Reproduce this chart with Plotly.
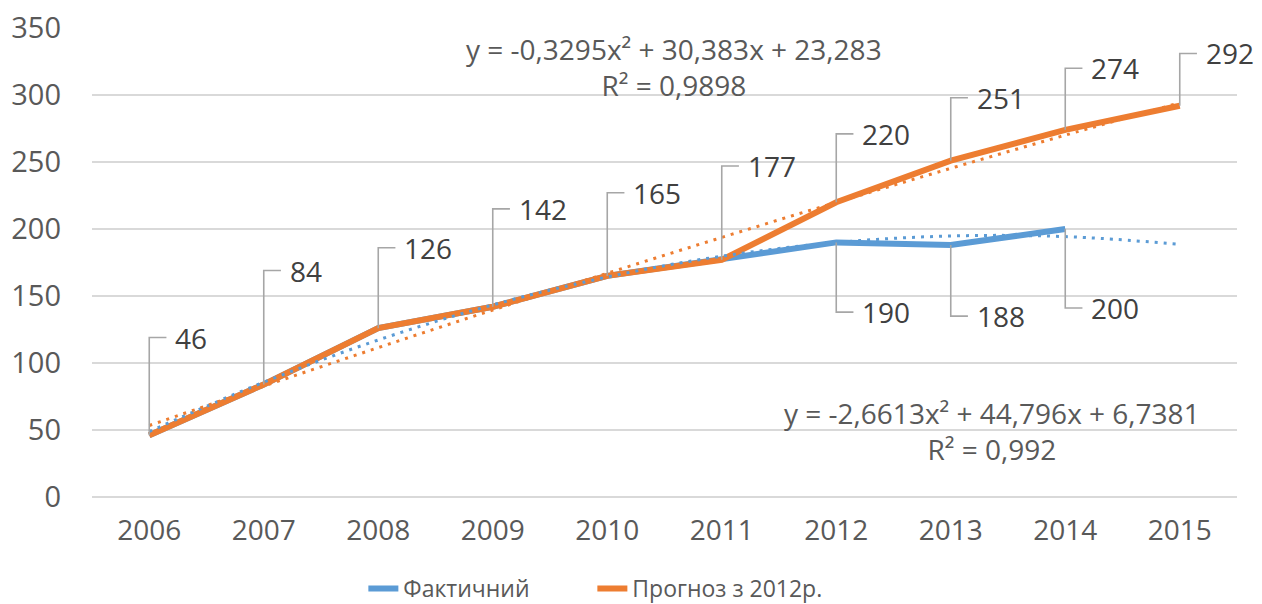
import plotly.graph_objects as go

years = ["2006", "2007", "2008", "2009", "2010", "2011", "2012", "2013", "2014", "2015"]
actual = [46, 84, 126, 142, 165, 177, 190, 188, 200]
forecast = [46, 84, 126, 142, 165, 177, 220, 251, 274, 292]
# polynomial trend lines, evaluated from the equations shown on the chart
actual_trend = [48.87, 85.68, 117.18, 143.34, 164.19, 179.71, 189.91, 194.79, 194.33, 188.57]
forecast_trend = [53.34, 82.73, 111.47, 139.54, 166.96, 193.72, 219.82, 245.26, 270.04, 294.16]
actual_eq = "y = -2,6613x² + 44,796x + 6,7381<br>R² = 0,992"
forecast_eq = "y = -0,3295x² + 30,383x + 23,283<br>R² = 0,9898"

# label leader offsets (data units)
forecast_label_dy = [73, 85, 60, 73, 62, 70, 51, 47, 46, 39]
actual_label_idx = [6, 7, 8]
actual_label_dy = [-52, -53, -59]

BLUE = "#5B9BD5"
ORANGE = "#ED7D31"
TXT = "#595959"
GRID = "#D9D9D9"
LEAD = "#A6A6A6"
FONT = "Open Sans"

xi = list(range(len(years)))
fig = go.Figure()
fig.add_trace(go.Scatter(x=xi[:len(actual)], y=actual, mode="lines", name="Фактичний",
                         line=dict(color=BLUE, width=6), hoverinfo="skip", legend="legend"))
fig.add_trace(go.Scatter(x=xi, y=forecast, mode="lines", name="Прогноз з 2012р.",
                         line=dict(color=ORANGE, width=6), hoverinfo="skip", legend="legend2"))
fig.add_trace(go.Scatter(x=xi, y=actual_trend, mode="lines", showlegend=False,
                         line=dict(color=BLUE, width=3, dash="3px,6px", shape="spline"), hoverinfo="skip"))
fig.add_trace(go.Scatter(x=xi, y=forecast_trend, mode="lines", showlegend=False,
                         line=dict(color=ORANGE, width=3, dash="3px,6px", shape="spline"), hoverinfo="skip"))

HL = 0.15
annotations = []
def add_label(i, v, dy):
    fig.add_trace(go.Scatter(x=[i, i, i + HL], y=[v, v + dy, v + dy], mode="lines",
                             showlegend=False, hoverinfo="skip",
                             line=dict(color=LEAD, width=1.6)))
    annotations.append(dict(x=i + HL, y=v + dy, xref="x", yref="y", text=str(v),
                            showarrow=False, xanchor="left", yanchor="middle", xshift=7,
                            font=dict(family=FONT, size=28, color="#404040")))

for i, (v, dy) in enumerate(zip(forecast, forecast_label_dy)):
    add_label(i, v, dy)
for i, dy in zip(actual_label_idx, actual_label_dy):
    add_label(i, actual[i], dy)

annotations.append(dict(x=4.58, y=321, xref="x", yref="y", text=forecast_eq, showarrow=False,
                        xanchor="center", yanchor="middle", align="center",
                        font=dict(family=FONT, size=28, color=TXT)))
annotations.append(dict(x=7.36, y=49, xref="x", yref="y", text=actual_eq, showarrow=False,
                        xanchor="center", yanchor="middle", align="center",
                        font=dict(family=FONT, size=28, color=TXT)))

legend_style = dict(orientation="h", xanchor="left", y=-0.195, yanchor="middle",
                    font=dict(family=FONT, size=23, color=TXT), bgcolor="rgba(0,0,0,0)")

# the page body adds an 8px offset, so the figure is 8px smaller on each axis
fig.update_layout(
    width=1254, height=596,
    margin=dict(l=84, r=25, t=20, b=107, autoexpand=False),
    paper_bgcolor="white", plot_bgcolor="white",
    font=dict(family=FONT, size=28, color=TXT),
    annotations=annotations,
    legend=dict(x=0.237, **legend_style),
    legend2=dict(x=0.437, **legend_style),
    xaxis=dict(range=[-0.5, len(years) - 0.5], tickvals=xi, ticktext=years,
               showgrid=False, zeroline=False, showline=False, ticks="", automargin=False,
               ticklabelstandoff=14, tickfont=dict(family=FONT, size=28, color=TXT)),
    yaxis=dict(range=[0, 350], dtick=50, showgrid=True, gridcolor=GRID, gridwidth=1.6,
               zeroline=True, zerolinecolor=GRID, zerolinewidth=1.6, showline=False,
               ticks="", automargin=False, ticklabelstandoff=30, ticklabeloverflow="allow",
               tickfont=dict(family=FONT, size=29, color=TXT)),
)
fig.write_html("out.html")
